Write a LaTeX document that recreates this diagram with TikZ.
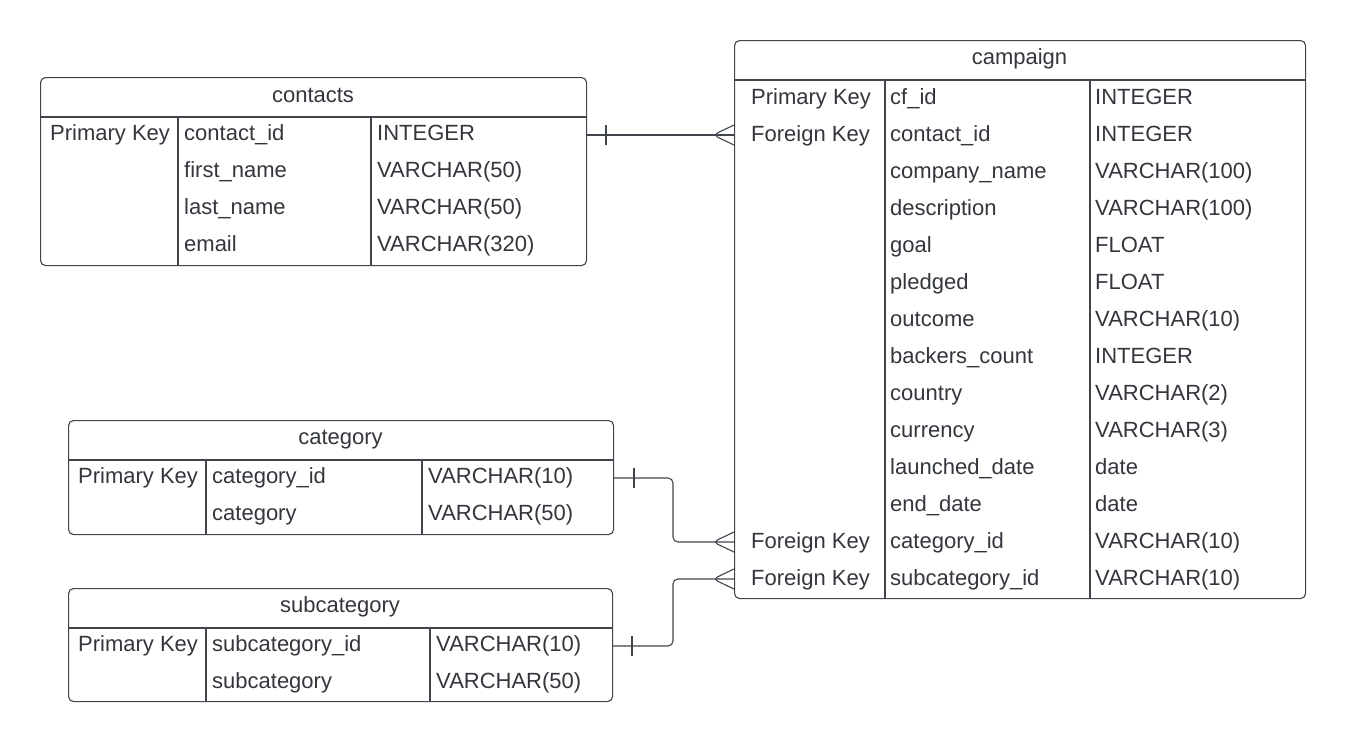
\documentclass[tikz,border=0pt]{standalone}
\usepackage{fontspec}
\setmainfont{Liberation Sans}
\definecolor{lc}{HTML}{40454C}
\definecolor{tc}{HTML}{33373D}
\tikzset{
  tbl/.style={draw=lc, line width=1.1pt, rounded corners=5pt, anchor=north west, inner sep=0pt, fill=white},
  grid/.style={draw=lc, line width=1.1pt},
  conn/.style={draw=lc, line width=1.1pt, rounded corners=5pt},
  txt/.style={anchor=base west, inner sep=0pt, font=\fontsize{22}{26}\selectfont, text=tc},
  ttl/.style={anchor=base, inner sep=0pt, font=\fontsize{22}{26}\selectfont, text=tc}
}
\begin{document}
\begin{tikzpicture}[x=1pt,y=-1pt]
\useasboundingbox (0,0) rectangle (1345,742);

% ---------- contacts ----------
\node[tbl, minimum width=546pt, minimum height=188pt] (contacts) at (40,77) {};
\draw[grid] (contacts.west |- 0,117) -- (contacts.east |- 0,117);
\draw[grid] (178,117) -- (178,265);
\draw[grid] (371,117) -- (371,265);
\node[ttl] (contacts-t) at (313,102) {contacts};
\foreach \a/\b/\c [count=\i] in {Primary Key/contact\_id/INTEGER, {}/first\_name/VARCHAR(50), {}/last\_name/VARCHAR(50), {}/email/VARCHAR(320)} {
  \node[txt] (ct-\i-a) at (50,{140.5+(\i-1)*37}) {\a};
  \node[txt] (ct-\i-b) at (184,{140.5+(\i-1)*37}) {\b};
  \node[txt] (ct-\i-c) at (377,{140.5+(\i-1)*37}) {\c};
}

% ---------- campaign ----------
\node[tbl, minimum width=571pt, minimum height=558pt] (campaign) at (734,40) {};
\draw[grid] (campaign.west |- 0,80) -- (campaign.east |- 0,80);
\draw[grid] (885,80) -- (885,598);
\draw[grid] (1090,80) -- (1090,598);
\node[ttl] (campaign-t) at (1019.5,64) {campaign};
\foreach \a/\b/\c [count=\i] in {Primary Key/cf\_id/INTEGER, Foreign Key/contact\_id/INTEGER, {}/company\_name/VARCHAR(100), {}/description/VARCHAR(100), {}/goal/FLOAT, {}/pledged/FLOAT, {}/outcome/VARCHAR(10), {}/backers\_count/INTEGER, {}/country/VARCHAR(2), {}/currency/VARCHAR(3), {}/launched\_date/date, {}/end\_date/date, Foreign Key/category\_id/VARCHAR(10), Foreign Key/subcategory\_id/VARCHAR(10)} {
  \node[txt] (cp-\i-a) at (751,{104+(\i-1)*37}) {\a};
  \node[txt] (cp-\i-b) at (890,{104+(\i-1)*37}) {\b};
  \node[txt] (cp-\i-c) at (1095,{104+(\i-1)*37}) {\c};
}

% ---------- category ----------
\node[tbl, minimum width=545pt, minimum height=114pt] (category) at (68,420) {};
\draw[grid] (category.west |- 0,460) -- (category.east |- 0,460);
\draw[grid] (206,460) -- (206,534);
\draw[grid] (422,460) -- (422,534);
\node[ttl] (category-t) at (340.5,444) {category};
\foreach \a/\b/\c [count=\i] in {Primary Key/category\_id/VARCHAR(10), {}/category/VARCHAR(50)} {
  \node[txt] (cg-\i-a) at (78,{483+(\i-1)*37}) {\a};
  \node[txt] (cg-\i-b) at (212,{483+(\i-1)*37}) {\b};
  \node[txt] (cg-\i-c) at (428,{483+(\i-1)*37}) {\c};
}

% ---------- subcategory ----------
\node[tbl, minimum width=544pt, minimum height=113pt] (subcategory) at (68,588) {};
\draw[grid] (subcategory.west |- 0,628) -- (subcategory.east |- 0,628);
\draw[grid] (206,628) -- (206,701);
\draw[grid] (430,628) -- (430,701);
\node[ttl] (subcategory-t) at (340,612) {subcategory};
\foreach \a/\b/\c [count=\i] in {Primary Key/subcategory\_id/VARCHAR(10), {}/subcategory/VARCHAR(50)} {
  \node[txt] (sc-\i-a) at (78,{651+(\i-1)*37}) {\a};
  \node[txt] (sc-\i-b) at (212,{651+(\i-1)*37}) {\b};
  \node[txt] (sc-\i-c) at (436,{651+(\i-1)*37}) {\c};
}

% ---------- connectors ----------
% contacts -> campaign
\draw[conn] (contacts.east |- 0,135) -- (campaign.west |- 0,135);
\draw[conn] (606,125) -- (606,145);
\draw[conn] (campaign.west |- 0,125) -- (713,135) -- (campaign.west |- 0,145);

% category -> campaign
\draw[conn] (category.east |- 0,478) -- (673,478) -- (673,542) -- (campaign.west |- 0,542);
\draw[conn] (634,468) -- (634,488);
\draw[conn] (campaign.west |- 0,532) -- (713,542) -- (campaign.west |- 0,552);

% subcategory -> campaign
\draw[conn] (subcategory.east |- 0,646) -- (673,646) -- (673,579) -- (campaign.west |- 0,579);
\draw[conn] (632,636) -- (632,656);
\draw[conn] (campaign.west |- 0,569) -- (713,579) -- (campaign.west |- 0,589);
\end{tikzpicture}
\end{document}
